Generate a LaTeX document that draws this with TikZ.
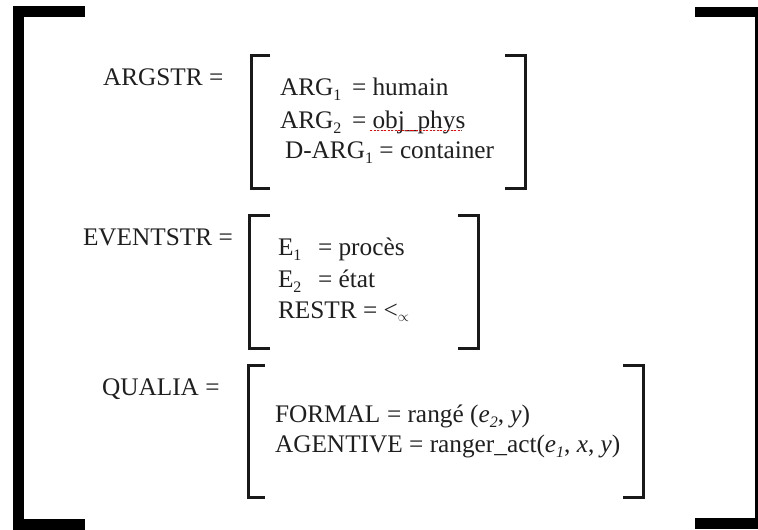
\documentclass[tikz,border=0pt]{standalone}
\usepackage{fontspec}
\setmainfont{Liberation Serif}
\newcommand{\mysub}[1]{\raisebox{-0.2em}{\fontsize{16}{16}\selectfont #1}}
\begin{document}
\begin{tikzpicture}[x=1pt,y=-1pt,
  txt/.style={anchor=base west,inner sep=0pt,outer sep=0pt,text=black!88,font=\fontsize{25.3}{30}\selectfont},
  inbr/.style={draw=black!90,line width=3pt,line join=miter},
  outbr/.style={draw=black,line width=11pt,line join=miter}]
\useasboundingbox (0,0) rectangle (758,530);
% outer brackets
\draw[outbr] (85,11) -- (18.5,11) -- (18.5,524) -- (85,524);
\fill[black] (695,7) rectangle (758,17);
\fill[black] (695,518) rectangle (758,529);
\fill[black] (754.5,7) rectangle (757.5,529);
% inner brackets
\draw[inbr] (270,55) -- (251.5,55) -- (251.5,188) -- (270,188);
\draw[inbr] (505,55) -- (525.5,55) -- (525.5,188) -- (505,188);
\draw[inbr] (270,215) -- (249.5,215) -- (249.5,348) -- (270,348);
\draw[inbr] (458,215) -- (478,215) -- (478,348) -- (458,348);
\draw[inbr] (265,365) -- (248.5,365) -- (248.5,497) -- (265,497);
\draw[inbr] (623,365) -- (643,365) -- (643,497) -- (623,497);
% ARGSTR
\node[txt] (argstr) at (103,85) {ARGSTR =};
\node[txt] (arg1) at (280,95) {ARG\mysub{1}};
\node[txt] (arg1v) at (352,95) {= humain};
\node[txt] (arg2) at (280,128) {ARG\mysub{2}};
\node[txt] (arg2v) at (352,128) {= obj\_phys};
\draw[red,line width=1.6pt,dash pattern=on 2pt off 1.5pt] (370,130.5) -- (462,130.5);
\node[txt] (darg) at (285,158) {D-ARG\mysub{1} = container};
% EVENTSTR
\node[txt] (eventstr) at (83,245) {EVENTSTR =};
\node[txt] (e1) at (278,255) {E\mysub{1}};
\node[txt] (e1v) at (318,255) {= procès};
\node[txt] (e2) at (278,287) {E\mysub{2}};
\node[txt] (e2v) at (318,287) {= état};
\node[txt] (restr) at (278,318) {RESTR = <\raisebox{-0.15em}{\fontsize{15}{15}\selectfont$\propto$}};
% QUALIA
\node[txt] (qualia) at (102,395) {QUALIA =};
\node[txt] (formal) at (275,422) {FORMAL};
\node[txt] (formalv) at (387,422) {= rangé (\textit{e}\mysub{\textit{2}}, \textit{y})};
\node[txt] (agentive) at (275,452) {AGENTIVE = ranger\_act(\textit{e}\mysub{\textit{1}}, \textit{x}, \textit{y})};
\end{tikzpicture}
\end{document}
